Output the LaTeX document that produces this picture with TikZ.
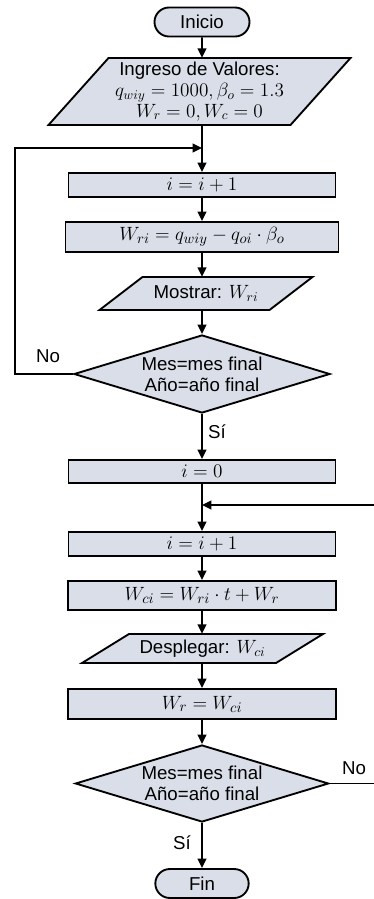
\documentclass[tikz,border=0pt]{standalone}
\usepackage{amsmath, amssymb}
\usepackage{fontspec}
\setmainfont{Liberation Sans}
\usepackage{xcolor}
\usetikzlibrary{shapes.geometric, shapes.misc, arrows.meta, backgrounds, calc}

\definecolor{cajagris}{RGB}{217,222,232}

\tikzset{
  flujo/.style={draw, line width=1.4pt, fill=cajagris, inner sep=0pt, align=center,
    font=\fontsize{14}{15.5}\selectfont},
  terminal/.style={flujo, rounded rectangle, minimum height=21.75pt},
  proceso/.style={flujo, rectangle, font=\fontsize{15}{17}\selectfont},
  entrada/.style={rectangle, inner sep=0pt, align=center, font=\fontsize{14}{15.5}\selectfont},
  decision/.style={flujo, diamond, shape aspect=3.28, minimum width=192pt, minimum height=58.5pt},
  flecha/.style={line width=1.4pt, -{Triangle[length=7pt,width=6.5pt]}},
  linea/.style={line width=1.4pt},
  etiqueta/.style={inner sep=0pt, font=\fontsize{14}{15.5}\selectfont},
}

% parallelogram round an input/output node: name, half edge, half slant, half height
\newcommand{\paralelo}[4]{%
  \filldraw[flujo] ($(#1.center)+(-#2+#3,-#4)$) -- ($(#1.center)+(#2+#3,-#4)$)
    -- ($(#1.center)+(#2-#3,#4)$) -- ($(#1.center)+(-#2-#3,#4)$) -- cycle;}

\begin{document}
\begin{tikzpicture}[x=0.75pt,y=0.75pt,yscale=-1,xscale=1]
\path[use as bounding box] (0,0) rectangle (374,899);

% Terminal Nodes
\node[terminal, minimum width=71.25pt] (ini) at (202,22) {Inicio};
\node[terminal, minimum width=70pt] (fin) at (202,883.5) {Fin};

% Input / Output Nodes
\node[entrada, minimum width=150pt, minimum height=50.25pt] (ingreso) at (199.5,91.5)
  {Ingreso de Valores:\\ $q_{wiy} = 1000, \beta_o = 1.3$\\ $W_r = 0, W_c = 0$};
\node[entrada, minimum width=100pt, minimum height=24.75pt] (mostrar) at (206,293.5)
  {Mostrar: $W_{ri}$};
\node[entrada, minimum width=110pt, minimum height=21.75pt] (desplegar) at (202.5,648.5)
  {Desplegar: $W_{ci}$};
\begin{scope}[on background layer]
\paralelo{ingreso}{121}{30}{33.5}
\paralelo{mostrar}{85}{21.5}{16.5}
\paralelo{desplegar}{97}{23.5}{14.5}
\end{scope}

% Process Nodes
\node[proceso, minimum width=200.25pt, minimum height=18pt] (suma1) at (202,185) {$i = i + 1$};
\node[proceso, minimum width=204.75pt, minimum height=22.5pt] (wri) at (202,237) {$W_{ri} = q_{wiy} - q_{oi} \cdot \beta_o$};
\node[proceso, minimum width=200.25pt, minimum height=17.25pt] (cero) at (202,471.5) {$i = 0$};
\node[proceso, minimum width=200.25pt, minimum height=18pt] (suma2) at (202,544) {$i = i + 1$};
\node[proceso, minimum width=201pt, minimum height=21.75pt] (wci) at (202,595.5) {$W_{ci} = W_{ri} \cdot t + W_r$};
\node[proceso, minimum width=201pt, minimum height=22.5pt] (wr) at (202,704) {$W_r = W_{ci}$};

% Decision Nodes
\node[decision] (mes1) at (202,374) {Mes=mes final\\ Año=año final};
\node[decision, minimum width=190pt, minimum height=57.75pt] (mes2) at (202,783.5) {Mes=mes final\\ Año=año final};

% Joints
\coordinate (union1) at (202,148);
\coordinate (izq) at (15,374);
\coordinate (union2) at (202,505);
\coordinate (der2) at (374,505);
\coordinate (der1) at (374,783.5);

% Straight Lines
\draw[flecha] (ini) -- (ini |- ingreso.north);
\draw[flecha] (ini |- ingreso.south) -- (suma1);
\draw[flecha] (suma1) -- (wri);
\draw[flecha] (wri) -- (wri |- mostrar.north);
\draw[flecha] (wri |- mostrar.south) -- (mes1);
\draw[flecha] (mes1.west) -- (izq) |- (union1);
\draw[flecha] (mes1) -- (cero);
\draw[flecha] (cero) -- (suma2);
\draw[flecha] (der2) -- (union2);
\draw[flecha] (suma2) -- (wci);
\draw[flecha] (wci) -- (wci |- desplegar.north);
\draw[flecha] (wci |- desplegar.south) -- (wr);
\draw[flecha] (wr) -- (mes2);
\draw[flecha] (mes2) -- (fin);
\draw[linea] (mes2.east) -- (der1);

% Text Node
\node[etiqueta] (no1) at (48,356) {No};
\node[etiqueta] (si1) at (217,432) {Sí};
\node[etiqueta] (no2) at (354,768) {No};
\node[etiqueta] (si2) at (182,843) {Sí};

\end{tikzpicture}
\end{document}
